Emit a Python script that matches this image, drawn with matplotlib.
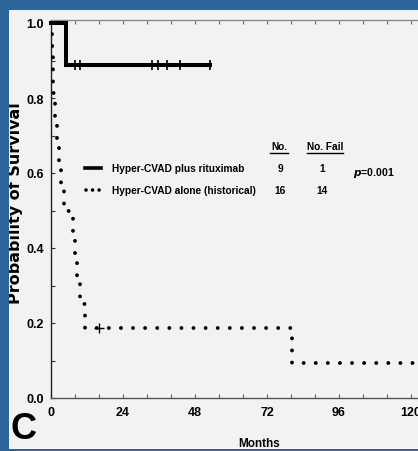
import numpy as np
import matplotlib.pyplot as plt
from matplotlib.lines import Line2D
from matplotlib.patches import Rectangle
from matplotlib.ticker import MultipleLocator

# Kaplan-Meier data
rit_months = [0, 4.9, 53.0]
rit_surv = [1.0, 0.889, 0.889]
rit_censor = [8.0, 9.7, 33.6, 35.7, 38.6, 43.0, 53.0]
rit_censor_surv = [0.889, 0.889, 0.889, 0.889, 0.889, 0.889, 0.889]

alone_months = [0, 0.4, 0.5, 0.8, 1.2, 1.9, 2.8, 3.2, 4.2, 7.2, 8.0, 8.8, 9.5, 11.3, 80.3, 120.5]
alone_surv = [1.0, 0.9375, 0.875, 0.8125, 0.75, 0.6875, 0.625, 0.5625, 0.5,
              0.4375, 0.375, 0.3125, 0.25, 0.1875, 0.09375, 0.09375]
alone_censor = [16.0]
alone_censor_surv = [0.1875]

xticks = [0, 24, 48, 72, 96, 120]
yticks = [0.0, 0.2, 0.4, 0.6, 0.8, 1.0]

groups = ["Hyper-CVAD plus rituximab", "Hyper-CVAD alone (historical)"]
n_pts = ["9", "16"]
n_fail = ["1", "14"]

W, H = 418, 452
font = 'Liberation Sans'
blue = '#2e6599'
panel = '#f2f2f2'

fig = plt.figure(figsize=(W / 100, H / 100), dpi=100)
fig.patch.set_facecolor(blue)
bg = Rectangle((9 / W, 1 - 450 / H), (W - 9) / W, (450 - 11) / H,
               transform=fig.transFigure, facecolor=panel,
               edgecolor='none', zorder=0)
fig.add_artist(bg)

def px(x, y):
    # pixel position -> figure fraction
    return x / W, 1 - y / H

ax = fig.add_axes([51 / W, 1 - 399 / H, (W - 51) / W, 378 / H])
ax.set_facecolor('none')
ax.set_xlim(0, (W - 51) / 3)
ax.set_ylim(0, 378 / 375)

ax.spines['right'].set_visible(False)
ax.spines['top'].set_color('#8a8a8a')
ax.spines['bottom'].set_color('#555555')
ax.spines['left'].set_color('#222222')
for s in ['top', 'bottom', 'left']:
    ax.spines[s].set_linewidth(1.0)

ax.set_xticks(xticks)
ax.set_xticklabels([str(t) for t in xticks], family=font, fontweight='bold', fontsize=9)
ax.xaxis.set_minor_locator(MultipleLocator(8))
ax.set_yticks(yticks)
ax.set_yticklabels(['%.1f' % t for t in yticks], family=font, fontweight='bold', fontsize=9)
ax.yaxis.set_minor_locator(MultipleLocator(0.1))
ax.tick_params(axis='x', which='both', direction='in', top=True, length=3,
               width=0.8, color='#666666', pad=6)
ax.tick_params(axis='y', which='both', direction='in', length=3,
               width=0.8, color='#333333', pad=5)

# curves
ax.step(rit_months, rit_surv, where='post', color='black', lw=2.9,
        solid_joinstyle='miter', zorder=3, clip_on=False)
ax.plot(rit_censor, rit_censor_surv, ls='none', marker='|', ms=7, mew=1.2,
        color='black', zorder=4)
ax.step(alone_months, alone_surv, where='post', color='black', lw=2.8,
        ls=(0, (0.01, 3.1)), dash_capstyle='round', zorder=3)
ax.plot(alone_censor, alone_censor_surv, ls='none', marker='+', ms=7, mew=1.0,
        color='black', zorder=4)

# legend / table
fig.add_artist(Line2D([85 / W, 101 / W], [1 - 169 / H, 1 - 169 / H],
                      transform=fig.transFigure, color='black', lw=2.6))
fig.add_artist(Line2D([86 / W, 100 / W], [1 - 191 / H, 1 - 191 / H],
                      transform=fig.transFigure, color='black', lw=2.6,
                      ls=(0, (0.01, 1.8)), dash_capstyle='round'))
for i, yy in enumerate([169, 191]):
    fig.text(*px(112, yy), groups[i], family=font, fontweight='bold',
             fontsize=7.3, va='center', ha='left')
    fig.text(*px(280, yy), n_pts[i], family=font, fontweight='bold',
             fontsize=7.3, va='center', ha='center')
    fig.text(*px(322, yy), n_fail[i], family=font, fontweight='bold',
             fontsize=7.3, va='center', ha='center')
fig.text(*px(279, 147), 'No.', family=font, fontweight='bold', fontsize=7.3,
         va='center', ha='center')
fig.text(*px(325, 147), 'No. Fail', family=font, fontweight='bold', fontsize=7.3,
         va='center', ha='center')
fig.add_artist(Line2D([270 / W, 288 / W], [1 - 153.5 / H] * 2, transform=fig.transFigure,
                      color='black', lw=1.0))
fig.add_artist(Line2D([307 / W, 343 / W], [1 - 153.5 / H] * 2, transform=fig.transFigure,
                      color='black', lw=1.0))
fig.text(*px(353, 173), r'$\mathbfit{p}$=0.001', family=font, fontweight='bold',
         fontsize=7.6, va='center', ha='left')

# axis titles
ylab = fig.text(*px(23, 203), 'Probability of Survival', family='DejaVu Sans',
                fontweight='bold', fontsize=11.5, rotation=90, va='center', ha='right')
ylab.set_clip_path(bg)
fig.text(*px(259, 444), 'Months', family=font, fontweight='bold', fontsize=8.5,
         va='center', ha='center')
fig.text(*px(23, 430), 'C', family=font, fontweight='bold', fontsize=26,
         va='center', ha='center')

fig.savefig('out.png', dpi=100, facecolor=fig.get_facecolor())
